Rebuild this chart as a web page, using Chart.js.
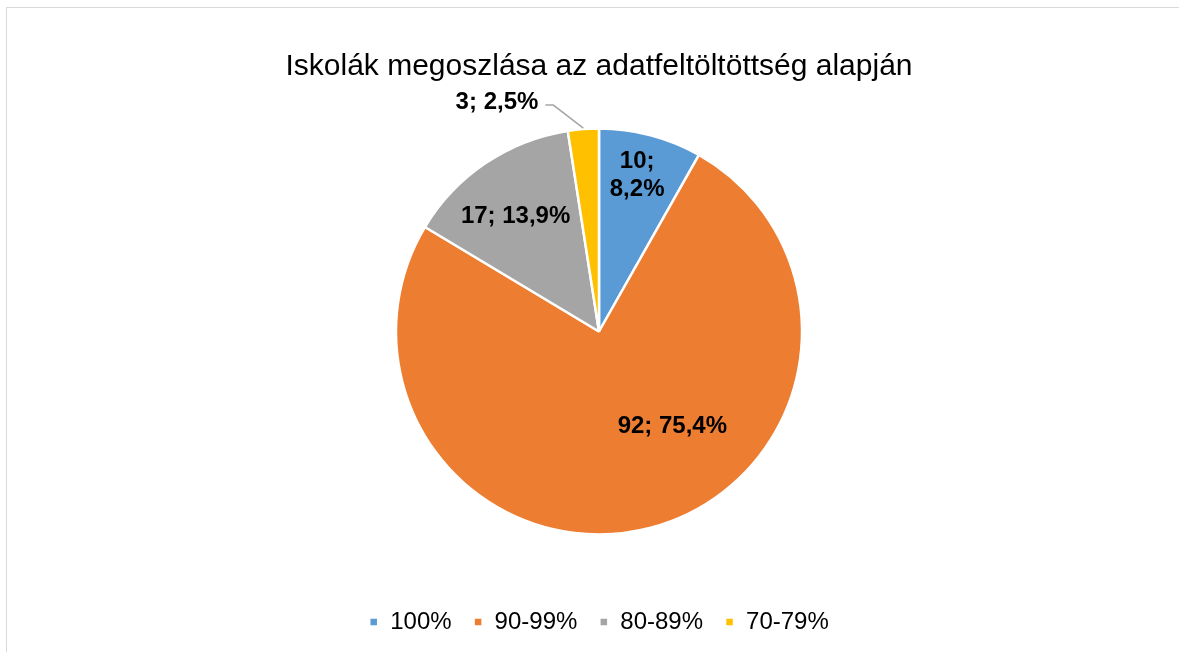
<!DOCTYPE html>
<html>
<head>
<meta charset="utf-8">
<script src="https://cdn.jsdelivr.net/npm/chart.js@4"></script>
<style>
    html, body { margin: 0; padding: 0; background: #fff; overflow: hidden; }
    #box {
        position: absolute; left: 6px; top: 7px;
        width: 1184px; height: 645px;
        border-left: 1px solid #d9d9d9; border-top: 1px solid #d9d9d9;
    }
</style>
</head>
<body>
<div id="box"><canvas id="chartIskola" width="1184" height="645"></canvas></div>
<script>
    // adatok
    const kategoriak = ['100%', '90-99%', '80-89%', '70-79%'];
    const iskolakSzama = [10, 92, 17, 3];
    const szazalekok = ['8,2%', '75,4%', '13,9%', '2,5%'];
    const szinek = ['#5b9bd5', '#ed7d31', '#a5a5a5', '#ffc000'];

    /* Címkék a szeletekre (Excel stílus) */
    const szeletCimkek = {
        id: 'szeletCimkek',
        afterDatasetsDraw(chart) {
            const ctx = chart.ctx;
            const meta = chart.getDatasetMeta(0);
            // [szögeltolás fokban, sugár arány, sortörés]
            const hely = [[-1, 0.79, true], [-23, 0.59, false], [-2, 0.70, false], [null, 0, false]];
            ctx.save();
            ctx.font = 'bold 24px "Liberation Sans", Arial, sans-serif';
            ctx.fillStyle = '#000';
            ctx.textAlign = 'center';
            ctx.textBaseline = 'middle';
            meta.data.forEach(function (arc, i) {
                const p = arc.getProps(['x', 'y', 'startAngle', 'endAngle', 'outerRadius'], true);
                const mid = (p.startAngle + p.endAngle) / 2;
                if (hely[i][0] === null) {
                    // kis szelet: címke kívül, vezetővonallal
                    const r = p.outerRadius;
                    const ex = p.x + Math.cos(mid) * r, ey = p.y + Math.sin(mid) * r;
                    const kx = ex - 30, ky = ey - 24;
                    ctx.strokeStyle = '#a6a6a6';
                    ctx.lineWidth = 1.5;
                    ctx.beginPath();
                    ctx.moveTo(ex, ey - 1);
                    ctx.lineTo(kx, ky);
                    ctx.lineTo(kx - 8, ky);
                    ctx.stroke();
                    ctx.textAlign = 'right';
                    ctx.fillText(iskolakSzama[i] + '; ' + szazalekok[i], kx - 15, ky - 3);
                    ctx.textAlign = 'center';
                    return;
                }
                const a = mid + hely[i][0] * Math.PI / 180;
                const r = p.outerRadius * hely[i][1];
                const cx = p.x + Math.cos(a) * r, cy = p.y + Math.sin(a) * r;
                if (hely[i][2]) {
                    ctx.fillText(iskolakSzama[i] + ';', cx, cy - 14);
                    ctx.fillText(szazalekok[i], cx, cy + 14);
                } else {
                    ctx.fillText(iskolakSzama[i] + '; ' + szazalekok[i], cx, cy);
                }
            });
            ctx.restore();
        }
    };

    new Chart(document.getElementById('chartIskola'), {
        type: 'pie',
        data: {
            labels: kategoriak,
            datasets: [{
                data: iskolakSzama,
                backgroundColor: szinek,
                borderColor: '#fff',
                borderWidth: 2.5,
                radius: 203
            }]
        },
        options: {
            responsive: false,
            animation: false,
            layout: { padding: { bottom: 9 } },
            plugins: {
                title: {
                    display: true,
                    text: 'Iskolák megoszlása az adatfeltöltöttség alapján',
                    color: '#000',
                    font: { family: '"Liberation Sans", Arial, sans-serif', size: 30, weight: 'normal', lineHeight: 0.5 },
                    padding: { top: 51, bottom: 1 }
                },
                legend: {
                    position: 'bottom',
                    labels: {
                        color: '#000',
                        font: { family: '"Liberation Sans", Arial, sans-serif', size: 24 },
                        usePointStyle: true,
                        pointStyle: 'rect',
                        boxWidth: 9,
                        boxHeight: 9,
                        padding: 22
                    }
                },
                tooltip: { enabled: false }
            }
        },
        plugins: [szeletCimkek]
    });
</script>
</body>
</html>
